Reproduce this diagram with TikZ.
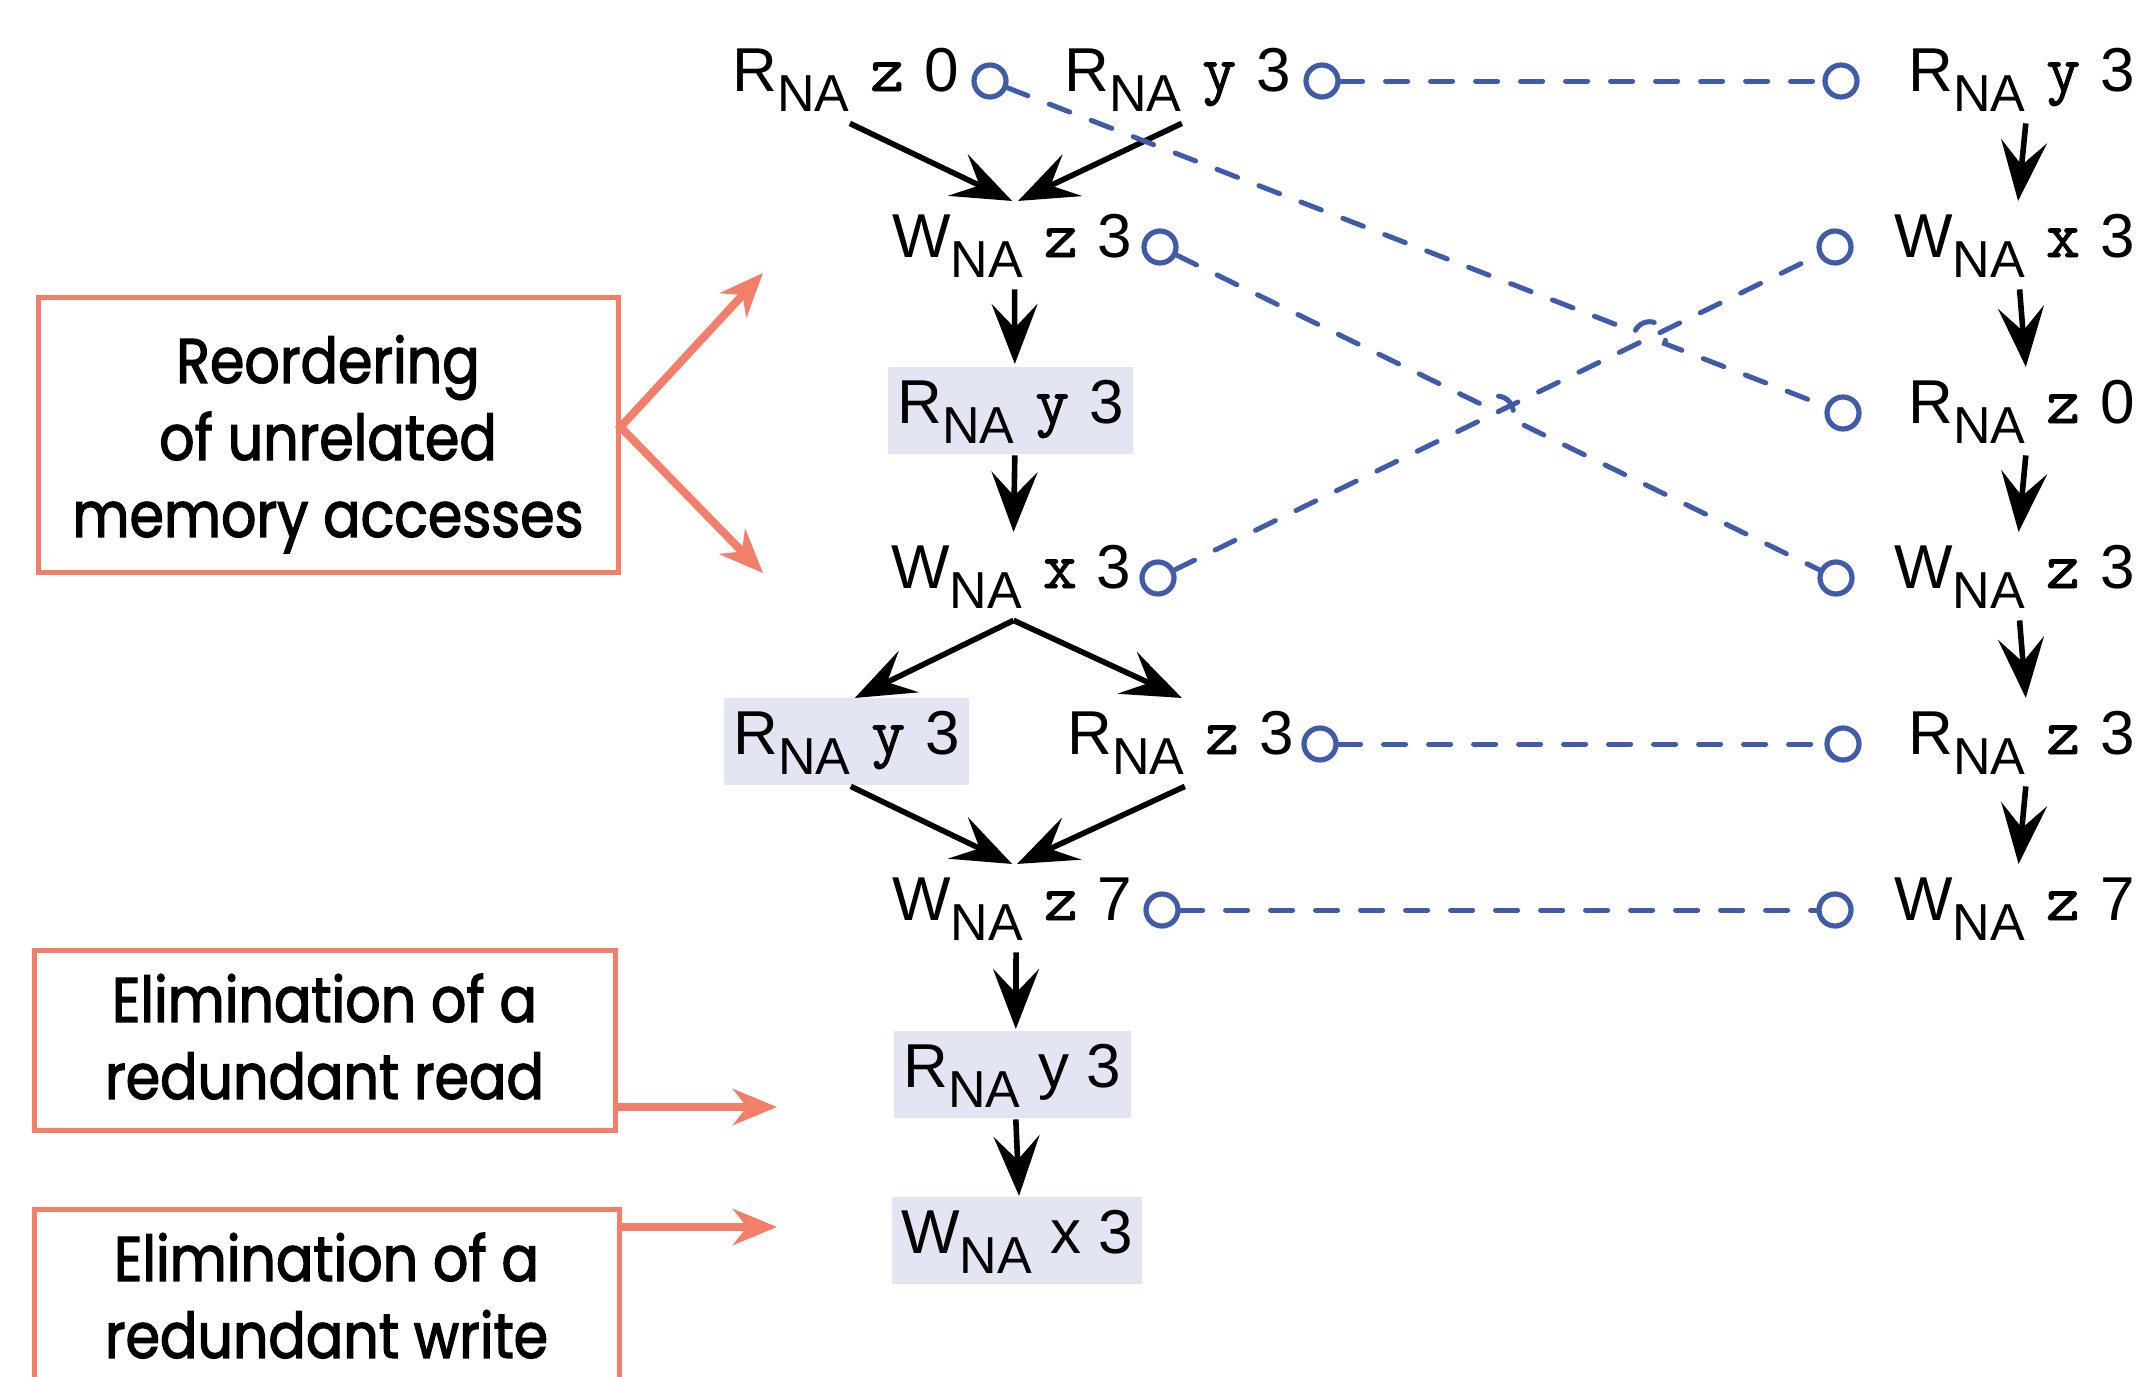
\documentclass[tikz,border=0pt]{standalone}
\usepackage{fontspec}
\setmainfont{Liberation Sans}
\newfontfamily\monof{Latin Modern Mono}[FakeBold=1.3]
\newfontfamily\remarkf{Poppins}[FakeStretch=0.88,FakeBold=2]
\usetikzlibrary{arrows.meta,calc,backgrounds}

\definecolor{salmon}{RGB}{243,127,107}
\definecolor{depblue}{RGB}{63,91,170}
\definecolor{cellbg}{RGB}{227,229,242}

% subscript of an access label and the location name in typewriter
\newcommand\NAsub{\raisebox{-10pt}{\fontsize{26}{26}\selectfont NA}}
\newcommand\vr[1]{\makebox[19.8pt]{\monof\fontsize{33}{33}\selectfont #1}}
% centred lines of a remark, lowered inside their frame
\newcommand\remarklines[2]{\raisebox{-#1}[\height][\depth]{\begin{tabular}{@{}c@{}}#2\end{tabular}}}

\begin{document}
\begin{tikzpicture}[x=0.5pt,y=-0.5pt,
  lblhead/.style={anchor=base west, inner sep=0pt, font=\fontsize{31}{31}\selectfont},
  lbltail/.style={anchor=base west, inner sep=0pt, xshift=8.6pt, font=\fontsize{31}{31}\selectfont},
  port/.style={circle, draw=depblue, line width=2.6pt, minimum size=16pt, inner sep=0pt},
  dep/.style={draw=depblue, line width=2.5pt, dash pattern=on 11pt off 11.5pt, line cap=round},
  arr/.style={line width=2.8pt, -{Stealth[length=30pt,width=23pt,inset=12pt]}},
  remark/.style={draw=salmon, line width=2.5pt, inner sep=0pt,
    font=\remarkf\fontsize{31.5}{38.5}\selectfont},
  bigarr/.style={draw=salmon, line width=4pt, -{Stealth[length=22pt,width=18pt,inset=7pt]}},
  cell/.style={fill=cellbg}
]
\useasboundingbox (0,0) rectangle (2145,1376);

% ---- left graph ----
\node[lblhead] (h0a) at (732,91) {R\NAsub};
\node[lbltail] (t0a) at (h0a.base east) {\vr{z} 0};
\node[lblhead] (h0b) at (1064,91) {R\NAsub};
\node[lbltail] (t0b) at (h0b.base east) {\vr{y} 3};
\node[lblhead] (h1) at (892,257) {W\NAsub};
\node[lbltail] (t1) at (h1.base east) {\vr{z} 3};
\node[lblhead] (h2) at (897,423) {R\NAsub};
\node[lbltail] (t2) at (h2.base east) {\vr{y} 3};
\node[lblhead] (h3) at (891,588) {W\NAsub};
\node[lbltail] (t3) at (h3.base east) {\vr{x} 3};
\node[lblhead] (h4a) at (733,754) {R\NAsub};
\node[lbltail] (t4a) at (h4a.base east) {\vr{y} 3};
\node[lblhead] (h4b) at (1067,754) {R\NAsub};
\node[lbltail] (t4b) at (h4b.base east) {\vr{z} 3};
\node[lblhead] (h5) at (892,920) {W\NAsub};
\node[lbltail] (t5) at (h5.base east) {\vr{z} 7};
\node[lblhead] (h6) at (903,1087) {R\NAsub};
\node[lbltail] (t6) at (h6.base east) {y 3};
\node[lblhead] (h7) at (901,1253) {W\NAsub};
\node[lbltail] (t7) at (h7.base east) {x 3};

% ---- right graph ----
\node[lblhead] (rh0) at (1908,91) {R\NAsub};
\node[lbltail] (rt0) at (rh0.base east) {\vr{y} 3};
\node[lblhead] (rh1) at (1894,257) {W\NAsub};
\node[lbltail] (rt1) at (rh1.base east) {\vr{x} 3};
\node[lblhead] (rh2) at (1908,423) {R\NAsub};
\node[lbltail] (rt2) at (rh2.base east) {\vr{z} 0};
\node[lblhead] (rh3) at (1894,588) {W\NAsub};
\node[lbltail] (rt3) at (rh3.base east) {\vr{z} 3};
\node[lblhead] (rh4) at (1908,754) {R\NAsub};
\node[lbltail] (rt4) at (rh4.base east) {\vr{z} 3};
\node[lblhead] (rh5) at (1894,920) {W\NAsub};
\node[lbltail] (rt5) at (rh5.base east) {\vr{z} 7};

% highlighted accesses
\begin{pgfonlayer}{background}
  \foreach \h/\t in {h2/t2, h4a/t4a, h6/t6, h7/t7}
    \fill[cell] ($(\h.north west)+(-4.5pt,6.5pt)$) rectangle ($(\h.south -| \t.east)+(4.5pt,-5.5pt)$);
\end{pgfonlayer}

% ---- program order ----
\draw[arr] ($(h0a.south east)+(0,-6pt)$) -- ($(h1.north east)+(-5.75pt,6.5pt)$);
\draw[arr] ($(h0b.south east)+(0,-6pt)$) -- ($(h1.north east)+(-2.75pt,6.5pt)$);
\draw[arr] ($(h1.south east)+(-4.5pt,-6pt)$) -- ($(h2.north east)+(0,8pt)$);
\draw[arr] ($(h2.south east)+(0,-6pt)$) -- ($(h3.north east)+(-4.5pt,6.5pt)$);
\draw[arr] ($(h3.south east)+(-4.5pt,-6pt)$) -- ($(h4a.north east)+(2pt,6.5pt)$);
\draw[arr] ($(h3.south east)+(-4.5pt,-6pt)$) -- ($(h4b.north east)+(-1.5pt,6.5pt)$);
\draw[arr] ($(h4a.south east)+(0,-6pt)$) -- ($(h5.north east)+(-5.75pt,6.5pt)$);
\draw[arr] ($(h4b.south east)+(0,-6pt)$) -- ($(h5.north east)+(-3.25pt,6.5pt)$);
\draw[arr] ($(h5.south east)+(-3.75pt,-6pt)$) -- ($(h6.north east)+(-2.5pt,7.5pt)$);
\draw[arr] ($(h6.south east)+(-2.5pt,-6pt)$) -- ($(h7.north east)+(-6.75pt,7pt)$);

\draw[arr] ($(rh0.south east)+(0,-6pt)$) -- ($(rh1.north east)+(-3.75pt,6.5pt)$);
\draw[arr] ($(rh1.south east)+(-3pt,-6pt)$) -- ($(rh2.north east)+(0,6.5pt)$);
\draw[arr] ($(rh2.south east)+(0,-6pt)$) -- ($(rh3.north east)+(-3.5pt,6.5pt)$);
\draw[arr] ($(rh3.south east)+(-3pt,-6pt)$) -- ($(rh4.north east)+(0,6.5pt)$);
\draw[arr] ($(rh4.south east)+(0,-6pt)$) -- ($(rh5.north east)+(-3.5pt,6.5pt)$);

% ---- correspondence between the two graphs ----
\node[port] (c0a) at (990,81) {};
\node[port] (c0b) at (1322,81) {};
\node[port] (c1) at (1160,247) {};
\node[port] (c3) at (1158,578) {};
\node[port] (c4) at (1320,744) {};
\node[port] (c5) at (1162,910) {};
\node[port] (rc0) at (1841,81) {};
\node[port] (rc1) at (1835,247) {};
\node[port] (rc2) at (1843,413) {};
\node[port] (rc3) at (1836,578) {};
\node[port] (rc4) at (1843,744) {};
\node[port] (rc5) at (1835,910) {};

\coordinate (X1) at (intersection of c0a--rc2 and c3--rc1);
\coordinate (X2) at (intersection of c1--rc3 and c3--rc1);

\draw[dep] (c0b) -- (rc0);
\draw[dep] (c3) -- (rc1);
\draw[dep] (c0a) -- ($(X1)!8pt!(c0a)$) arc[start angle=158.73, end angle=-21.27, radius=8pt] -- (rc2);
\draw[dep] (c1) -- ($(X2)!8pt!(c1)$) arc[start angle=153.91, end angle=-26.09, radius=8pt] -- (rc3);
\draw[dep] (c4) -- (rc4);
\draw[dep] (c5) -- (rc5);

% ---- transformations ----
\node[remark, minimum width=290pt, minimum height=137.5pt] (b1) at (328,434.5)
  {\remarklines{5pt}{Reordering\\ of unrelated\\ memory accesses}};
\node[remark, minimum width=290.5pt, minimum height=90pt] (b2) at (324.5,1040)
  {\remarklines{2.5pt}{Elimination of a\\ redundant read}};
\node[remark, minimum width=292.5pt, minimum height=90pt] (b3) at (326.5,1299)
  {\remarklines{2.5pt}{Elimination of a\\ redundant write}};

\coordinate (p1a) at (763,273);
\coordinate (p1b) at (763,573);
\coordinate (p2) at (777,1107);
\coordinate (p3) at (777,1227);
\draw[bigarr, {Stealth[length=22pt,width=18pt,inset=7pt]}-{Stealth[length=22pt,width=18pt,inset=7pt]}, line join=miter]
  (p1a) -- ([yshift=3.75pt]b1.east) -- (p1b);
\draw[bigarr] (b2.east |- p2) -- (p2);
\draw[bigarr] (b3.east |- p3) -- (p3);
\end{tikzpicture}
\end{document}
